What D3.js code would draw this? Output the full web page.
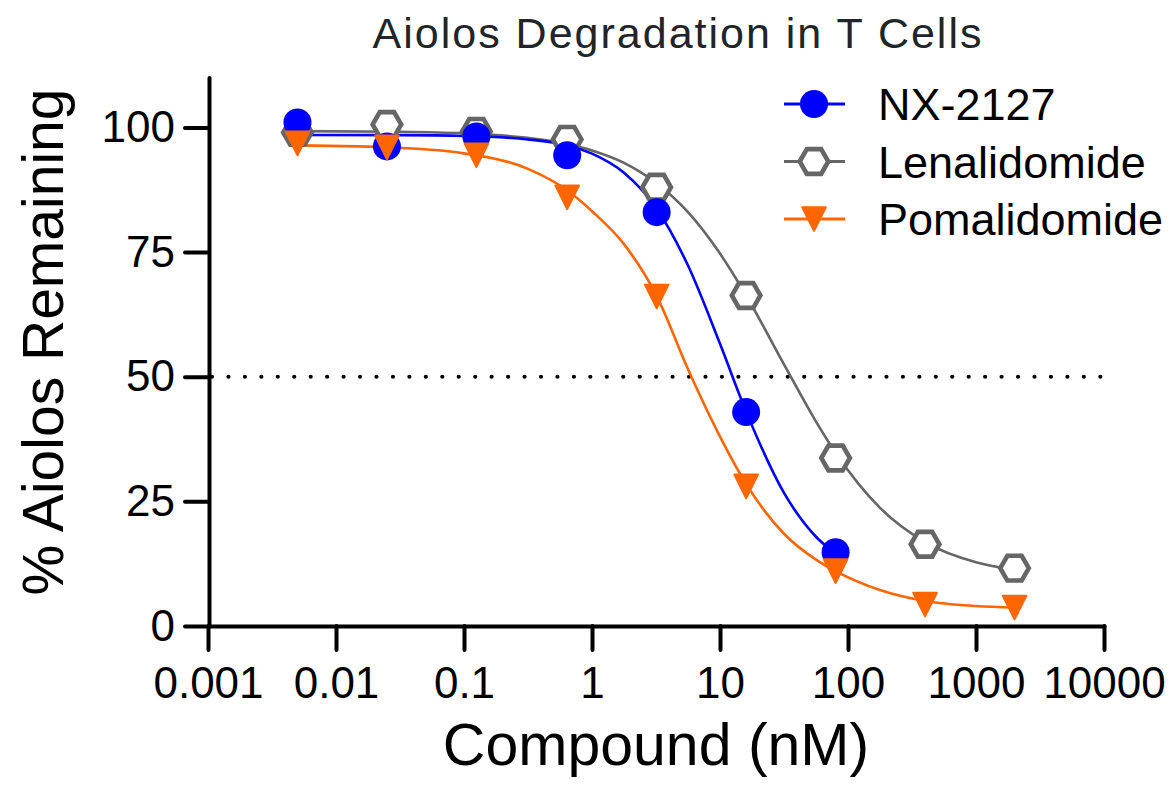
<!DOCTYPE html>
<html>
<head>
<meta charset="utf-8">
<script src="https://cdn.jsdelivr.net/npm/d3@7"></script>
<style>
  body { margin: 0; background: #fff; }
  svg { display: block; }
</style>
</head>
<body>
<svg id="chart" width="1169" height="786"></svg>
<script>
(function () {
    'use strict';

    // concentrations (nM), 5-fold dilutions
    const conc = [0.005, 0.025, 0.125, 0.64, 3.2, 16, 80, 400, 2000];

    // % Aiolos remaining at each concentration
    const nxValues = [101, 96.2, 98.2, 94.4, 83, 42.9, 14.8];
    const lenValues = [99, 100.6, 99.2, 97.6, 88, 66.3, 33.7, 16.4, 11.6];
    const pomValues = [96.8, 96, 94.4, 86, 66.1, 28, 11, 4.3, 3.7];

    // fitted curves at these concentrations
    const curveConc = [0.005, 0.0316, 0.1, 0.316, 0.64, 1, 1.778, 3.2, 5.623, 10, 16, 31.62, 56.23, 80, 177.8, 400, 1000, 2000];
    const nxCurve = [98.5, 98.46, 98.3, 97.6, 96.4, 94.75, 90.9, 83.7, 72.3, 56.6, 43.0, 26.7, 17.9, 14.5];
    const lenCurve = [99.27, 99.13, 98.81, 97.91, 96.7, 95.4, 92.9, 88.8, 83.0, 74.7, 66.3, 52.5, 41.0, 34.75, 23.7, 16.84, 12.8, 11.3];
    const pomCurve = [96.4, 95.9, 94.8, 91.7, 87.4, 83.2, 76.6, 66.2, 51.5, 38.0, 28.5, 18.5, 13.3, 11.0, 7.2, 5.0, 4.0, 3.7];

    const seriesNames = ["NX-2127", "Lenalidomide", "Pomalidomide"];

    const xTickVals = [0.001, 0.01, 0.1, 1, 10, 100, 1000, 10000];
    const xTickLabels = ["0.001", "0.01", "0.1", "1", "10", "100", "1000", "10000"];
    const yTickVals = [0, 25, 50, 75, 100];

    const FONT = "'Liberation Sans', Arial, Helvetica, sans-serif";

    var svg = d3.select("#chart");

    var x = d3.scaleLog()
        .domain([0.001, 10000])
        .range([208, 1104]);

    var y = d3.scaleLinear()
        .domain([0, 110])
        .range([626, 77.6]);

    let series = [
        { name: seriesNames[1], color: "#666666", values: lenValues, curve: lenCurve, shape: "hex" },
        { name: seriesNames[0], color: "#0000ff", values: nxValues, curve: nxCurve, shape: "circle" },
        { name: seriesNames[2], color: "#ff6600", values: pomValues, curve: pomCurve, shape: "tri" }
    ];

    function hexPath(r) {
        let pts = d3.range(6).map(i => {
            let a = i * Math.PI / 3;
            return [r * Math.cos(a), r * Math.sin(a)];
        });
        return "M" + pts.map(p => p.join(",")).join("L") + "Z";
    }

    function drawMarker(g, s) {
        if (s.shape === "circle") {
            g.append("circle").attr("r", 14).attr("fill", s.color);
        } else if (s.shape === "hex") {
            g.append("path").attr("d", hexPath(14.3))
                .attr("fill", "#fff").attr("stroke", s.color).attr("stroke-width", 4.6);
        } else {
            g.append("path").attr("d", "M-11.8,-11.8L11.8,-11.8L0,11.8Z")
                .attr("fill", s.color).attr("stroke", s.color)
                .attr("stroke-width", 2).attr("stroke-linejoin", "round");
        }
    }

    // title
    svg.append("text")
        .attr("x", 678).attr("y", 48)
        .attr("text-anchor", "middle")
        .attr("font-family", FONT)
        .attr("font-size", 43)
        .attr("letter-spacing", 2)
        .attr("fill", "#212529")
        .text("Aiolos Degradation in T Cells");

    // 50% reference line
    svg.append("line")
        .attr("x1", 212).attr("x2", 1100.5)
        .attr("y1", y(50)).attr("y2", y(50))
        .attr("stroke", "#000")
        .attr("stroke-width", 4.2)
        .attr("stroke-linecap", "round")
        .attr("stroke-dasharray", "0 16.45");

    // curves
    var line = d3.line()
        .x(d => x(d[0]))
        .y(d => y(d[1]))
        .curve(d3.curveMonotoneX);

    series.forEach(function (s) {
        let pts = s.curve.map((v, i) => [curveConc[i], v]);
        svg.append("path")
            .attr("d", line(pts))
            .attr("fill", "none")
            .attr("stroke", s.color)
            .attr("stroke-width", 2.6);
    });

    // points
    series.forEach(function (s) {
        s.values.forEach(function (v, i) {
            let g = svg.append("g").attr("transform", `translate(${x(conc[i])},${y(v)})`);
            drawMarker(g, s);
        });
    });

    // axes
    var xAxis = d3.axisBottom(x)
        .tickValues(xTickVals)
        .tickFormat((d, i) => xTickLabels[i])
        .tickSize(24)
        .tickPadding(17)
        .tickSizeOuter(0);

    var yAxis = d3.axisLeft(y)
        .tickValues(yTickVals)
        .tickFormat(d3.format("d"))
        .tickSize(24)
        .tickPadding(10)
        .tickSizeOuter(0);

    function styleAxis(g) {
        g.attr("font-family", FONT).attr("font-size", 44);
        g.select(".domain").attr("stroke", "#000").attr("stroke-width", 4).attr("stroke-linecap", "round");
        g.selectAll(".tick line").attr("stroke", "#000").attr("stroke-width", 4).attr("stroke-linecap", "round");
        g.selectAll(".tick text").attr("fill", "#000");
    }

    svg.append("g")
        .attr("transform", `translate(0,${y(0)})`)
        .call(xAxis)
        .call(styleAxis);

    svg.append("g")
        .attr("transform", "translate(209,0)")
        .call(yAxis)
        .call(styleAxis);

    // axis titles
    svg.append("text")
        .attr("x", 656).attr("y", 765)
        .attr("text-anchor", "middle")
        .attr("font-family", FONT)
        .attr("font-size", 59)
        .text("Compound (nM)");

    svg.append("text")
        .attr("transform", "translate(63,342) rotate(-90)")
        .attr("text-anchor", "middle")
        .attr("font-family", FONT)
        .attr("font-size", 57)
        .text("% Aiolos Remaining");

    // legend
    let legendOrder = [series[1], series[0], series[2]];
    let rowY = [104, 161.5, 219];
    legendOrder.forEach(function (s, i) {
        let g = svg.append("g").attr("transform", `translate(0,${rowY[i]})`);
        g.append("line")
            .attr("x1", 784).attr("x2", 845)
            .attr("stroke", s.color).attr("stroke-width", 3);
        let m = g.append("g").attr("transform", "translate(814,0)");
        drawMarker(m, s);
        g.append("text")
            .attr("x", 878).attr("y", 16)
            .attr("font-family", FONT)
            .attr("font-size", 45)
            .attr("fill", "#000")
            .text(s.name);
    });
})();
</script>
</body>
</html>
